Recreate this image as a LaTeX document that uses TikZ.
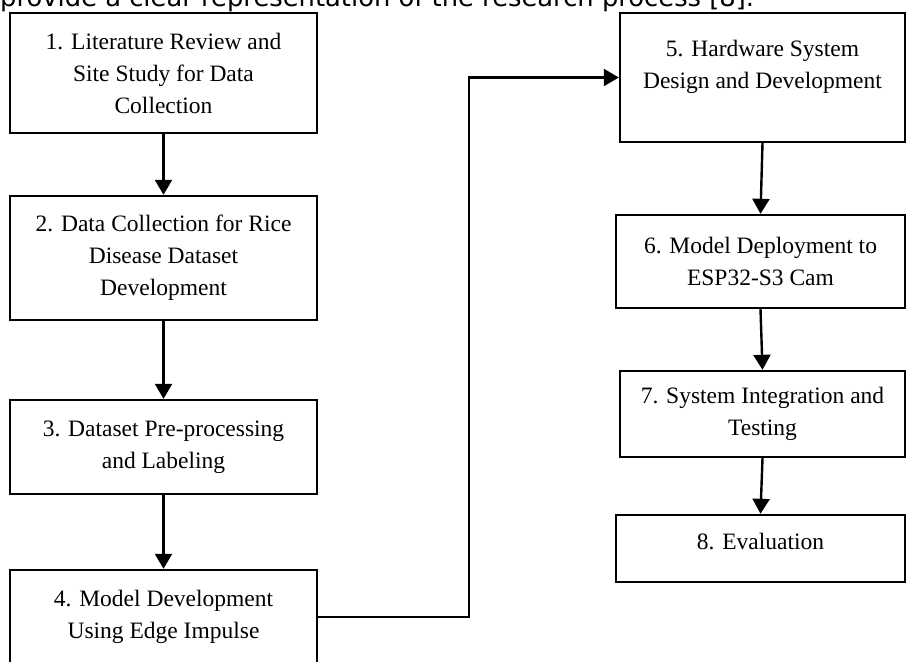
\documentclass[tikz,border=0pt]{standalone}
\usepackage{fontspec}
\setmainfont{Liberation Serif}
\newfontfamily\notefont{DejaVu Sans}
\usetikzlibrary{arrows.meta, calc}
\tikzset{
  box/.style={draw, line width=2.4pt, inner sep=0pt, align=center, font=\fontsize{23.5}{32}\selectfont},
  leftbox/.style={box, minimum width=307pt},
  rightbox/.style={box, minimum width=#1},
  arr/.style={-{Triangle[length=15pt, width=17pt]}, line width=2.4pt},
}

\begin{document}
\begin{tikzpicture}[x=1pt, y=-1pt]
  \clip (0,0) rectangle (907,661);
  \fill[white] (0,0) rectangle (907,661);
  % cut-off line of the surrounding text
  \node[anchor=base west, inner sep=0pt, font=\notefont\fontsize{25.8}{28}\selectfont] (note) at (0,7)
    {provide a clear representation of the research process [8].};
  % left column
  \node[leftbox, minimum height=120pt] (s1) at (163.5,73)
    {1. Literature Review and\\ Site Study for Data\\ Collection};
  \node[leftbox, minimum height=124pt] (s2) at (163.5,258)
    {2. Data Collection for Rice\\ Disease Dataset\\ Development};
  \node[leftbox, minimum height=94pt] (s3) at (163.5,447)
    {3. Dataset Pre-processing\\ and Labeling};
  \node[leftbox, minimum height=94pt] (s4) at (163.5,617)
    {4. Model Development\\ Using Edge Impulse};
  % right column
  \node[rightbox=285pt, minimum height=129pt, text depth=26pt] (s5) at (762.5,77.5)
    {5. Hardware System\\ Design and Development};
  \node[rightbox=289pt, minimum height=93pt] (s6) at (760.5,261.5)
    {6. Model Deployment to\\ ESP32-S3 Cam};
  \node[rightbox=285pt, minimum height=86pt] (s7) at (762.5,414)
    {7. System Integration and\\ Testing};
  \node[rightbox=289pt, minimum height=67pt, text depth=14pt] (s8) at (760.5,548.5)
    {8. Evaluation};
  \coordinate (turn) at (469,0);
  % connectors
  \draw[arr] (s1) -- (s2);
  \draw[arr] (s2) -- (s3);
  \draw[arr] (s3) -- (s4);
  \draw[arr] (s4.east) -- (s4.east -| turn) -- (s5.west -| turn) -- (s5.west);
  \draw[arr] (s5.south) -- (s6.north);
  \draw[arr] (s6.south) -- (s7.north);
  \draw[arr] (s7.south) -- (s8.north);
\end{tikzpicture}
\end{document}
